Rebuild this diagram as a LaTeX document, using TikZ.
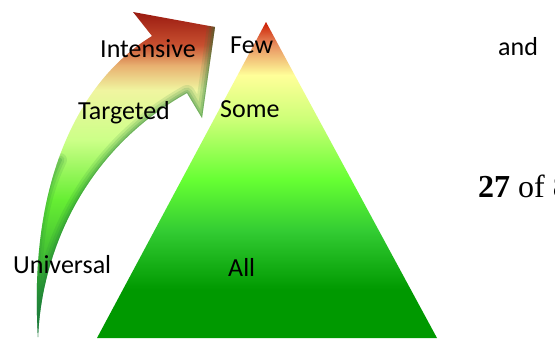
\documentclass[tikz,border=0pt]{standalone}
\usepackage{fontspec}
\setmainfont{Carlito}
\newfontfamily\serifface{Liberation Serif}
\definecolor{dg}{HTML}{009900}
\definecolor{gtwo}{HTML}{33CC33}
\definecolor{gthree}{HTML}{66FF33}
\definecolor{gfour}{HTML}{CCFF77}
\definecolor{yl}{HTML}{FFFF99}
\definecolor{orng}{HTML}{E89060}
\definecolor{rd}{HTML}{CC1A00}
\definecolor{aone}{HTML}{1A8040}
\definecolor{atwo}{HTML}{33AA33}
\definecolor{athree}{HTML}{66EE33}
\definecolor{afour}{HTML}{CCFF88}
\definecolor{afive}{HTML}{F0F5A0}
\definecolor{asix}{HTML}{E8B070}
\definecolor{aseven}{HTML}{C85030}
\definecolor{aeight}{HTML}{9A1A10}
\definecolor{edgegreen}{HTML}{1E7A3A}
\pgfdeclareverticalshading{pyrshade}{100bp}{color(0bp)=(dg); color(25bp)=(dg); color(32.6bp)=(dg); color(42bp)=(gtwo); color(50bp)=(gthree); color(59.5bp)=(gfour); color(66.6bp)=(yl); color(71.4bp)=(orng); color(75bp)=(rd); color(100bp)=(rd)}
\pgfdeclareverticalshading{arrshade}{100bp}{color(0bp)=(aone); color(25bp)=(aone); color(33.8bp)=(atwo); color(46.1bp)=(athree); color(55.3bp)=(afour); color(63bp)=(afive); color(66.8bp)=(asix); color(69.9bp)=(aseven); color(75bp)=(aeight); color(100bp)=(aeight)}
\tikzset{
  lbl/.style={font=\fontsize{26}{30}\selectfont, inner sep=0pt, anchor=base west, text=black},
  serlbl/.style={font=\serifface\fontsize{32}{36}\selectfont, inner sep=0pt, anchor=base west, text=black},
  glow/.style={draw=edgegreen, line join=round, line cap=round}
}
\begin{document}
\begin{tikzpicture}[x=1pt,y=-1pt]
\useasboundingbox (0,0) rectangle (555,338);
\clip (0,0) rectangle (555,338);
% pyramid
\shade[shading=pyrshade] (97,338) -- (266,22) -- (437,338) -- cycle;
% curved arrow
\def\arrowpath{(38,337) .. controls (42,250) and (85,150) .. (187,93) -- (202,118) -- (215,27) -- (133,12) -- (152,36) .. controls (80,80) and (28,180) .. (38,337) -- cycle}
\shade[shading=arrshade] \arrowpath;
\begin{scope}
  \clip \arrowpath;
  % inner edge darkening
  \foreach \w/\o in {16/0.12, 11/0.15, 6/0.2, 2/0.25}{
    \draw[glow, line width=\w pt, opacity=\o] (38,337) .. controls (42,250) and (85,150) .. (187,93) -- (202,118) -- (215,27);
  }
  % outer lower edge darkening
  \foreach \w/\o in {14/0.12, 9/0.15, 4/0.2}{
    \draw[glow, line width=\w pt, opacity=\o] (60,160) .. controls (40,200) and (30,260) .. (38,337);
  }
\end{scope}
% labels
\node[lbl] (intensive) at (100,57) {Intensive};
\node[lbl] (targeted) at (78,119) {Targeted};
\node[lbl] (universal) at (13,273) {Universal};
\node[lbl] (few) at (230,53) {Few};
\node[lbl] (some) at (220,117) {Some};
\node[lbl] (all) at (228,276) {All};
\node[lbl] (and) at (498,55) {and};
\node[serlbl] (page) at (478,197) {\textbf{27} of 8};
\end{tikzpicture}
\end{document}
